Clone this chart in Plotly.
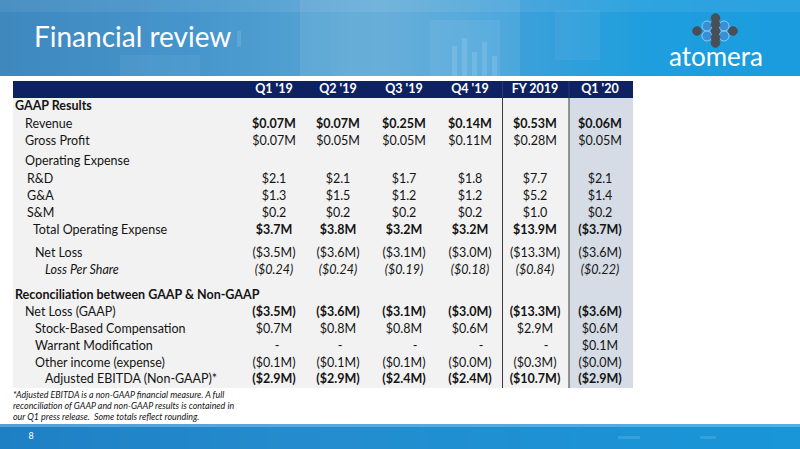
import plotly.graph_objects as go

# ---------------- data ----------------
columns = ["Q1 '19", "Q2 '19", "Q3 '19", "Q4 '19", "FY 2019", "Q1 '20"]

row_labels = [
    "GAAP Results", "Revenue", "Gross Profit", "Operating Expense", "R&D", "G&A", "S&M",
    "Total Operating Expense", "Net Loss", "Loss Per Share",
    "Reconciliation between GAAP & Non-GAAP", "Net Loss (GAAP)", "Stock-Based Compensation",
    "Warrant Modification", "Other income (expense)", "Adjusted EBITDA (Non-GAAP)*",
]

q1_19 = ["", "$0.07M", "$0.07M", "", "$2.1", "$1.3", "$0.2", "$3.7M", "($3.5M)", "($0.24)",
         "", "($3.5M)", "$0.7M", "-", "($0.1M)", "($2.9M)"]
q2_19 = ["", "$0.07M", "$0.05M", "", "$2.1", "$1.5", "$0.2", "$3.8M", "($3.6M)", "($0.24)",
         "", "($3.6M)", "$0.8M", "-", "($0.1M)", "($2.9M)"]
q3_19 = ["", "$0.25M", "$0.05M", "", "$1.7", "$1.2", "$0.2", "$3.2M", "($3.1M)", "($0.19)",
         "", "($3.1M)", "$0.8M", "-", "($0.1M)", "($2.4M)"]
q4_19 = ["", "$0.14M", "$0.11M", "", "$1.8", "$1.2", "$0.2", "$3.2M", "($3.0M)", "($0.18)",
         "", "($3.0M)", "$0.6M", "-", "($0.0M)", "($2.4M)"]
fy_2019 = ["", "$0.53M", "$0.28M", "", "$7.7", "$5.2", "$1.0", "$13.9M", "($13.3M)", "($0.84)",
           "", "($13.3M)", "$2.9M", "-", "($0.3M)", "($10.7M)"]
q1_20 = ["", "$0.06M", "$0.05M", "", "$2.1", "$1.4", "$0.2", "($3.7M)", "($3.6M)", "($0.22)",
         "", "($3.6M)", "$0.6M", "$0.1M", "($0.0M)", "($2.9M)"]
col_values = [q1_19, q2_19, q3_19, q4_19, fy_2019, q1_20]

footnote = ["*Adjusted EBITDA is a non-GAAP financial measure. A full",
            "reconciliation of GAAP and non-GAAP results is contained in",
            "our Q1 press release.  Some totals reflect rounding."]

title_text = "Financial review"
page_number = "8"

# ---------------- layout / style (positions in px of the 800x449 slide) ----------------
W, H = 800, 449
FONT = "Lato"
TXT = "#141414"
col_x = [274, 338, 404, 470, 535, 600]
dash_shift = [3, 2, 11, 11, 11, 0]
row_y = [107, 125, 142, 162, 180, 197, 214, 231, 254, 271, 296, 313, 330, 347, 364, 380]
label_x = [15, 25, 25, 25, 27, 27, 27, 33, 35, 45, 15, 25, 35, 35, 35, 45]
bold_label_rows = {0, 10}
bold_value_rows = {1, 7, 11, 15}
italic_rows = {9}

tbl_left, tbl_right = 13, 633
hdr_top, hdr_bot = 81, 98
body_bot = 388
sep1, sep2 = 502.5, 569


def styled(s, i, bold_rows):
    if not s:
        return s
    if i in bold_rows:
        s = "<b>" + s + "</b>"
    if i in italic_rows:
        s = "<i>" + s + "</i>"
    return s


def lerp(c1, c2, t):
    return "rgb(%d,%d,%d)" % tuple(round(a + (b - a) * t) for a, b in zip(c1, c2))


shapes = []
top_stops = [(0, (62, 136, 190)), (200, (70, 150, 205)), (380, (92, 168, 214)),
             (520, (60, 160, 218)), (650, (30, 158, 222)), (800, (26, 156, 222))]
bot_stops = [(0, (30, 128, 196)), (300, (36, 140, 206)), (600, (28, 146, 212)), (800, (24, 150, 216))]


def grad(stops, y0, y1, n=80):
    out = []
    for k in range(n):
        xa = W * k / n
        xb = W * (k + 1) / n + 0.6
        xm = (xa + xb) / 2
        for (p0, c0), (p1, c1) in zip(stops[:-1], stops[1:]):
            if p0 <= xm <= p1:
                col = lerp(c0, c1, (xm - p0) / (p1 - p0))
                break
        out.append(dict(type="rect", xref="x", yref="y", x0=xa, x1=xb, y0=y0, y1=y1,
                        fillcolor=col, line_width=0, layer="below"))
    return out


shapes += grad(top_stops, 0, 76)
shapes += grad(bot_stops, 424, H)
for (x0, x1, y0, y1, op) in [(0, 800, 0, 12, 0.07), (300, 520, 0, 76, 0.08), (430, 500, 20, 76, 0.06),
                             (555, 600, 10, 60, 0.05), (120, 200, 55, 76, 0.05),
                             (0, 800, 424, 427, 0.25)]:
    shapes.append(dict(type="rect", xref="x", yref="y", x0=x0, x1=x1, y0=y0, y1=y1,
                       fillcolor="white", opacity=op, line_width=0, layer="below"))
for (x0, x1, y0, y1) in [(452, 457, 46, 76), (462, 467, 38, 76), (472, 477, 52, 76),
                         (482, 487, 42, 76), (492, 497, 56, 76), (237, 241, 31, 47),
                         (618, 640, 436, 439), (700, 716, 436, 439)]:
    shapes.append(dict(type="rect", xref="x", yref="y", x0=x0, x1=x1, y0=y0, y1=y1,
                       fillcolor="white", opacity=0.12, line_width=0, layer="below"))

# table backgrounds
shapes.append(dict(type="rect", xref="x", yref="y", x0=tbl_left, x1=tbl_right, y0=hdr_bot, y1=body_bot,
                   fillcolor="#F2F2F2", line_width=0, layer="below"))
shapes.append(dict(type="rect", xref="x", yref="y", x0=sep2, x1=tbl_right, y0=hdr_bot, y1=body_bot,
                   fillcolor="#D6DCE5", line_width=0, layer="below"))
shapes.append(dict(type="rect", xref="x", yref="y", x0=tbl_left, x1=tbl_right, y0=hdr_top, y1=hdr_bot,
                   fillcolor="#0E2160", line_width=0, layer="below"))
for sx in (sep1, sep2):
    shapes.append(dict(type="line", xref="x", yref="y", x0=sx, x1=sx, y0=hdr_bot, y1=body_bot,
                       line=dict(color="#3A3A3A", width=1)))
    shapes.append(dict(type="line", xref="x", yref="y", x0=sx, x1=sx, y0=hdr_top, y1=hdr_bot,
                       line=dict(color="#2A3C78", width=1)))

# logo circles
for (cx, cy, r, fc, lc) in [(707, 26, 5, "#3A8ED6", "#8CCBF2"), (707, 36, 5, "#3A8ED6", "#8CCBF2"),
                            (724, 26, 5, "#3A8ED6", "#8CCBF2"), (724, 36, 5, "#3A8ED6", "#8CCBF2"),
                            (697, 31, 4.3, "#4A4F57", "#4A4F57"), (733, 31, 4.3, "#4A4F57", "#4A4F57"),
                            (715.5, 18, 4.3, "#4A4F57", "#4A4F57"), (715.5, 24.5, 4.3, "#4A4F57", "#4A4F57"),
                            (715.5, 31, 4.3, "#4A4F57", "#4A4F57"), (715.5, 37.5, 4.3, "#4A4F57", "#4A4F57"),
                            (715.5, 43, 4.3, "#4A4F57", "#4A4F57")]:
    shapes.append(dict(type="circle", xref="x", yref="y", x0=cx - r, x1=cx + r, y0=cy - r, y1=cy + r,
                       fillcolor=fc, line=dict(color=lc, width=1)))

fig = go.Figure()

fig.add_trace(go.Scatter(x=col_x, y=[89.5] * len(columns), mode="text",
                         text=["<b>" + c + "</b>" for c in columns], textposition="middle center",
                         textfont=dict(family=FONT, size=12.5, color="white"), hoverinfo="skip"))

fig.add_trace(go.Scatter(x=label_x, y=row_y, mode="text",
                         text=[styled(s, i, bold_label_rows) for i, s in enumerate(row_labels)],
                         textposition="middle right",
                         textfont=dict(family=FONT, size=12.5, color=TXT), hoverinfo="skip"))

for j, vals in enumerate(col_values):
    xs = [col_x[j] + (dash_shift[j] if v == "-" else 0) for v in vals]
    fig.add_trace(go.Scatter(x=xs, y=row_y, mode="text",
                             text=[styled(v, i, bold_value_rows) for i, v in enumerate(vals)],
                             textposition="middle center",
                             textfont=dict(family=FONT, size=12.5, color=TXT), hoverinfo="skip"))

fig.add_trace(go.Scatter(x=[13] * len(footnote), y=[396, 407, 418], mode="text",
                         text=["<i>" + s + "</i>" for s in footnote], textposition="middle right",
                         textfont=dict(family=FONT, size=8.9, color=TXT), hoverinfo="skip"))

fig.add_trace(go.Scatter(x=[34], y=[40], mode="text", text=[title_text], textposition="middle right",
                         textfont=dict(family=FONT, size=28, color="white"), hoverinfo="skip"))
fig.add_trace(go.Scatter(x=[716], y=[59], mode="text", text=["atomera"], textposition="middle center",
                         textfont=dict(family=FONT, size=26, color="white"), hoverinfo="skip"))
fig.add_trace(go.Scatter(x=[31], y=[437], mode="text", text=[page_number], textposition="middle center",
                         textfont=dict(family=FONT, size=9, color="white"), hoverinfo="skip"))

fig.update_layout(
    width=W, height=H, margin=dict(l=0, r=0, t=0, b=0),
    paper_bgcolor="white", plot_bgcolor="white", showlegend=False, shapes=shapes,
    xaxis=dict(range=[0, W], visible=False, fixedrange=True),
    yaxis=dict(range=[H, 0], visible=False, fixedrange=True),
)
fig.write_html("out.html", config={"displayModeBar": False},
               post_script="document.body.style.margin='0';document.body.style.padding='0';"
                           "document.body.style.overflow='hidden';")
